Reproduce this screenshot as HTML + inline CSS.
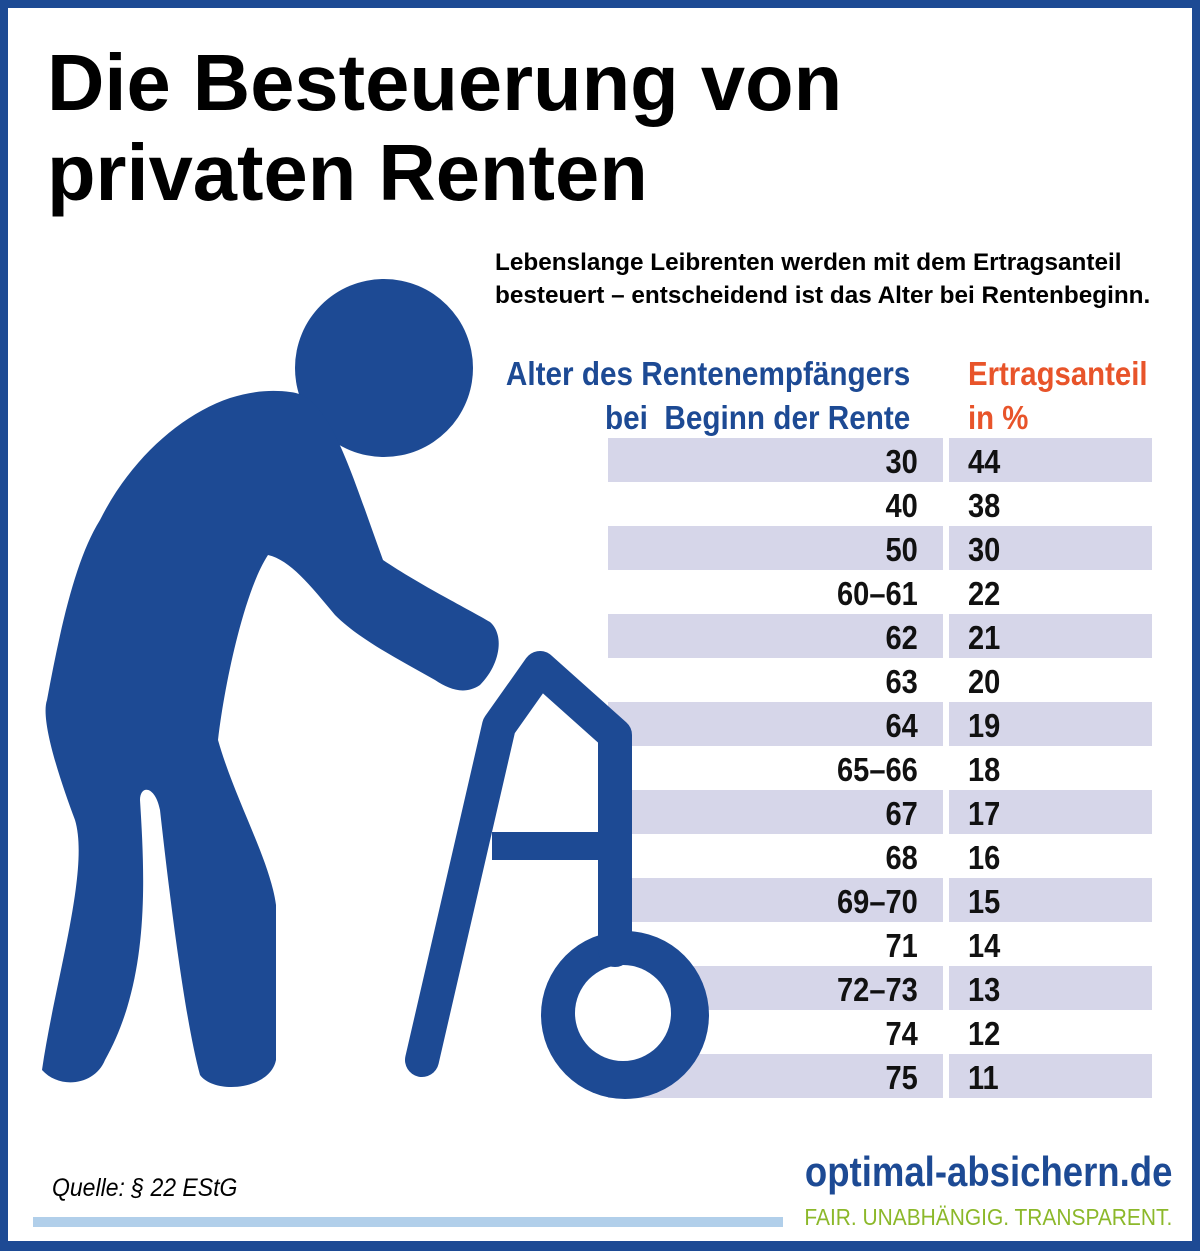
<!DOCTYPE html>
<html><head><meta charset="utf-8"><style>
body{margin:0}
#c{position:relative;width:1200px;height:1251px;background:#fff;overflow:hidden;font-family:"Liberation Sans",sans-serif}
.bd{position:absolute;background:#1d4a94}
.n{font-family:"Liberation Sans",sans-serif;font-weight:bold}
.t{position:absolute;white-space:nowrap}
.row{position:absolute;height:44px}
.l{left:608px;width:335px}
.r{left:949px;width:203px}
.bg{background:#d6d6e9}
.sr{transform:scaleX(0.88);transform-origin:right top}
.sl{transform:scaleX(0.88);transform-origin:left top}
</style></head><body><div id="c">
<div class="bd" style="left:0;top:0;width:1200px;height:8px"></div>
<div class="bd" style="left:0;top:0;width:8px;height:1251px"></div>
<div class="bd" style="right:0;top:0;width:8px;height:1251px"></div>
<div class="bd" style="left:0;bottom:0;width:1200px;height:10px"></div>

<div class="t" style="left:47px;top:38px;font-size:79.5px;font-weight:bold;line-height:90px;color:#000">Die Besteuerung von<br>privaten Renten</div>
<div class="t" style="left:495px;top:246px;font-size:24.3px;font-weight:bold;line-height:33px;color:#000">Lebenslange Leibrenten werden mit dem Ertragsanteil<br>besteuert – entscheidend ist das Alter bei Rentenbeginn.</div>

<div class="t n sr" style="right:290px;top:352px;font-size:33px;line-height:44px;color:#1d4a94;text-align:right;transform:scaleX(0.9)">Alter des Rentenempfängers<br>bei&nbsp; Beginn der Rente</div>
<div class="t n sl" style="left:968px;top:352px;font-size:33px;line-height:44px;color:#e8542a;transform:scaleX(0.89)">Ertragsanteil<br>in %</div>

<div class="row l bg" style="top:438px"></div><div class="row r bg" style="top:438px"></div>
<div class="row l bg" style="top:526px"></div><div class="row r bg" style="top:526px"></div>
<div class="row l bg" style="top:614px"></div><div class="row r bg" style="top:614px"></div>
<div class="row l bg" style="top:702px"></div><div class="row r bg" style="top:702px"></div>
<div class="row l bg" style="top:790px"></div><div class="row r bg" style="top:790px"></div>
<div class="row l bg" style="top:878px"></div><div class="row r bg" style="top:878px"></div>
<div class="row l bg" style="top:966px"></div><div class="row r bg" style="top:966px"></div>
<div class="row l bg" style="top:1054px"></div><div class="row r bg" style="top:1054px"></div>

<svg class="t" style="left:0;top:0" width="1200" height="1251">
<g fill="#1d4a94">
<circle cx="384" cy="368" r="89"/>
<path d="M290,392 C330,395 350,470 383,560 C420,585 470,610 490,622 C505,635 500,665 480,685 C465,695 450,690 435,680 C400,660 360,640 335,615 C310,585 290,560 268,555 C245,590 225,680 218,740 C235,800 270,860 276,905 L276,1060 C270,1090 215,1095 200,1075 C185,1020 170,900 160,810 C155,785 140,785 140,800 C145,880 150,980 105,1060 C95,1085 60,1090 42,1070 C55,980 90,870 75,820 C60,780 40,720 47,700 C60,630 75,560 100,520 C130,460 180,415 230,398 C255,390 275,390 290,392 Z"/>
<circle cx="625" cy="1015" r="84"/>
</g>
<circle cx="623" cy="1013" r="48" fill="#fff"/>
<g fill="none" stroke="#1d4a94" stroke-linejoin="round" stroke-linecap="round">
<path d="M422,1060 L499,726 L540,668 L615,735 L615,950" stroke-width="34"/>
<path d="M492,846 L605,846" stroke-width="28" stroke-linecap="butt"/>
</g>
</svg>

<div class="n sr" style="position:absolute;right:282px;top:440px;text-align:right;font-size:33px;line-height:44px;color:#111">30<br>40<br>50<br>60–61<br>62<br>63<br>64<br>65–66<br>67<br>68<br>69–70<br>71<br>72–73<br>74<br>75</div>
<div class="n sl" style="position:absolute;left:968px;top:440px;font-size:33px;line-height:44px;color:#111">44<br>38<br>30<br>22<br>21<br>20<br>19<br>18<br>17<br>16<br>15<br>14<br>13<br>12<br>11</div>

<div class="t sl" style="left:52px;top:1174px;font-size:25px;font-style:italic;color:#000;transform:scaleX(0.92)">Quelle: § 22 EStG</div>
<div style="position:absolute;left:33px;top:1217px;width:750px;height:10px;background:#b1cfea"></div>
<div class="t n sr" style="right:28px;top:1148px;font-size:42px;color:#1d4a94;transform:scaleX(0.87)">optimal-absichern.de</div>
<div class="t sr" style="right:28px;top:1204px;font-size:23px;color:#8cb82a;transform:scaleX(0.91)">FAIR. UNABHÄNGIG. TRANSPARENT.</div>
</div></body></html>
